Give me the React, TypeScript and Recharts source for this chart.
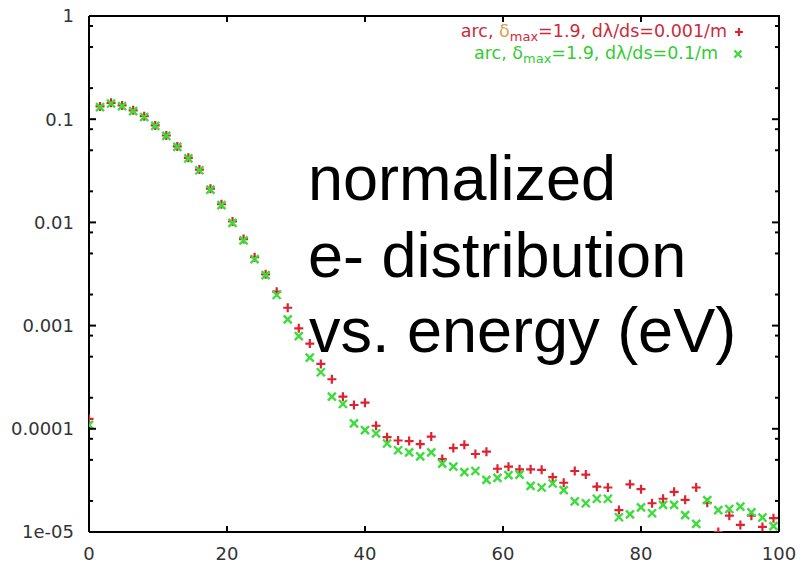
import React from 'react';
import { ScatterChart, Scatter, XAxis, YAxis } from 'recharts';

// energy bins (eV)
const ENERGY = [
  0, 1.6, 3.2, 4.8, 6.4, 8, 9.6, 11.2, 12.8, 14.4, 16, 17.6, 19.2, 20.8, 22.4, 24,
  25.6, 27.2, 28.8, 30.4, 32, 33.6, 35.2, 36.8, 38.4, 40, 41.6, 43.2, 44.8, 46.4, 48, 49.6,
  51.2, 52.8, 54.4, 56, 57.6, 59.2, 60.8, 62.4, 64, 65.6, 67.2, 68.8, 70.4, 72, 73.6, 75.2,
  76.8, 78.4, 80, 81.6, 83.2, 84.8, 86.4, 88, 89.6, 91.2, 92.8, 94.4, 96, 97.6, 99.2,
];

// dλ/ds = 0.001/m  (red +)
const SLOW = [
  1.25e-4, 0.133, 0.144, 0.136, 0.122, 0.107, 0.087, 0.0695, 0.0545, 0.0422, 0.0325, 0.0212, 0.015, 0.0102, 0.0069, 0.0046,
  0.00314, 0.00213, 0.00149, 0.00094, 0.00067, 0.000425, 0.000302, 0.000205, 0.00017, 0.000179, 0.000107, 8.3e-5, 7.7e-5, 7.6e-5, 7.1e-5, 8.4e-5,
  5.1e-5, 6.5e-5, 7.0e-5, 5.7e-5, 6.0e-5, 4.1e-5, 4.3e-5, 4.05e-5, 4.05e-5, 4.0e-5, 3.4e-5, 3.0e-5, 3.9e-5, 3.6e-5, 2.75e-5, 2.7e-5,
  1.63e-5, 2.9e-5, 2.6e-5, 1.9e-5, 2.1e-5, 2.45e-5, 2.05e-5, 2.7e-5, 1.92e-5, 1.0e-5, 1.44e-5, 1.17e-5, 1.44e-5, 1.12e-5, 1.36e-5,
];

// dλ/ds = 0.1/m  (green x)
const FAST = [
  1.09e-4, 0.131, 0.142, 0.134, 0.12, 0.105, 0.086, 0.0688, 0.054, 0.0418, 0.032, 0.0208, 0.0147, 0.0099, 0.0067, 0.0044,
  0.00309, 0.00198, 0.00115, 0.00079, 0.00049, 0.000353, 0.000205, 0.000174, 0.000113, 9.7e-5, 9.0e-5, 7.2e-5, 6.2e-5, 5.9e-5, 5.4e-5, 5.9e-5,
  4.6e-5, 4.3e-5, 3.8e-5, 3.9e-5, 3.2e-5, 3.35e-5, 3.55e-5, 3.6e-5, 2.8e-5, 2.7e-5, 2.95e-5, 2.55e-5, 1.98e-5, 1.9e-5, 2.1e-5, 2.1e-5,
  1.39e-5, 1.48e-5, 1.73e-5, 1.52e-5, 1.83e-5, 1.83e-5, 1.46e-5, 1.2e-5, 2.04e-5, 1.63e-5, 1.67e-5, 1.76e-5, 1.55e-5, 1.38e-5, 1.14e-5,
];

const X_TICKS = [0, 20, 40, 60, 80, 100];
const Y_TICKS = [
  1e-5, 2e-5, 5e-5, 8e-5, 1e-4, 2e-4, 5e-4, 8e-4, 1e-3, 2e-3, 5e-3, 8e-3,
  0.01, 0.02, 0.05, 0.08, 0.1, 0.2, 0.5, 0.8, 1,
];

const W = 807;
const H = 563;
// plot box
const LEFT = 89;
const TOP = 16;
const RIGHT = 779;
const BOTTOM = 532;

const RED = '#dd2230';
const GREEN = '#3ddc3d';
const LABEL_FONT = '"DejaVu Sans", sans-serif';

const slowData = ENERGY.map((x, i) => ({ x, y: SLOW[i] }));
const fastData = ENERGY.map((x, i) => ({ x, y: FAST[i] }));

const isMajor = (v: number) => Math.abs(Math.log10(v) - Math.round(Math.log10(v))) < 1e-9;
const fmtY = (v: number) => (v < 5e-5 ? '1e-05' : String(v));

const PlusShape = (props: any) => {
  const { cx, cy } = props;
  if (cx == null || cy == null) return null;
  return <path d={`M${cx - 4.5},${cy}H${cx + 4.5}M${cx},${cy - 4.5}V${cy + 4.5}`} stroke={RED} strokeWidth={2.2} fill="none" />;
};

const CrossShape = (props: any) => {
  const { cx, cy } = props;
  if (cx == null || cy == null) return null;
  return <path d={`M${cx - 4},${cy - 4}L${cx + 4},${cy + 4}M${cx - 4},${cy + 4}L${cx + 4},${cy - 4}`} stroke={GREEN} strokeWidth={2.4} fill="none" />;
};

const NoShape = () => <g />;

const BottomTick = (props: any) => {
  const { x, payload } = props;
  const inner = payload.value !== 0 && payload.value !== 100;
  return (
    <g>
      {inner && <line x1={x} x2={x} y1={BOTTOM} y2={BOTTOM - 6} stroke="#000" strokeWidth={2} />}
      <text x={x} y={BOTTOM + 15} dy="0.71em" textAnchor="middle" fontSize={18} fill="#333" fontFamily={LABEL_FONT}>{payload.value}</text>
    </g>
  );
};

const TopTick = (props: any) => {
  const { x, payload } = props;
  if (payload.value === 0 || payload.value === 100) return null;
  return <line x1={x} x2={x} y1={TOP} y2={TOP + 6} stroke="#000" strokeWidth={2} />;
};

const LeftTick = (props: any) => {
  const { y, payload } = props;
  const major = isMajor(payload.value);
  return (
    <g>
      <line x1={LEFT} x2={LEFT + (major ? 7 : 4)} y1={y} y2={y} stroke="#000" strokeWidth={2} />
      {major && (
        <text x={LEFT - 15} y={y} dy="0.36em" textAnchor="end" fontSize={18} fill="#333" fontFamily={LABEL_FONT}>{fmtY(payload.value)}</text>
      )}
    </g>
  );
};

const RightTick = (props: any) => {
  const { y, payload } = props;
  const major = isMajor(payload.value);
  return <line x1={RIGHT} x2={RIGHT - (major ? 7 : 4)} y1={y} y2={y} stroke="#000" strokeWidth={2} />;
};

export default function App() {
  return (
    <div style={{ position: 'absolute', left: 0, top: 0, width: W, height: H, overflow: 'hidden', background: '#fff' }}>
      <ScatterChart width={W} height={H} margin={{ top: TOP - 1, right: W - RIGHT - 1, bottom: 0, left: 0 }}>
        <XAxis
          dataKey="x" type="number" domain={[0, 100]} ticks={X_TICKS} interval={0}
          height={H - BOTTOM} tickLine={false} allowDataOverflow
          axisLine={{ stroke: '#000', strokeWidth: 2 }} tick={<BottomTick />}
        />
        <XAxis
          xAxisId="top" dataKey="x" orientation="top" type="number" domain={[0, 100]} ticks={X_TICKS} interval={0}
          height={1} tickLine={false} allowDataOverflow
          axisLine={false} tick={<TopTick />}
        />
        <YAxis
          dataKey="y" type="number" scale="log" domain={[1e-5, 1]} ticks={Y_TICKS} interval={0}
          width={LEFT} tickLine={false} allowDataOverflow
          axisLine={{ stroke: '#000', strokeWidth: 2 }} tick={<LeftTick />}
        />
        <YAxis
          yAxisId="right" dataKey="y" orientation="right" type="number" scale="log" domain={[1e-5, 1]} ticks={Y_TICKS} interval={0}
          width={1} tickLine={false} allowDataOverflow
          axisLine={false} tick={<RightTick />}
        />
        <Scatter name="frame" data={slowData} xAxisId="top" yAxisId="right" shape={<NoShape />} isAnimationActive={false} />
        <Scatter name="slow" data={slowData} shape={<PlusShape />} isAnimationActive={false} />
        <Scatter name="fast" data={fastData} shape={<CrossShape />} isAnimationActive={false} />
      </ScatterChart>
      <svg width={W} height={H} style={{ position: 'absolute', left: 0, top: 0, pointerEvents: 'none' }}>
        <path d={`M${LEFT},${TOP}H${RIGHT}V${BOTTOM}`} fill="none" stroke="#000" strokeWidth={2} />
        <g fontFamily={LABEL_FONT} fontSize={17.5}>
          <text x={727} y={37} textAnchor="end" fill="#cc2a3a">
            arc, <tspan fill="#d9a04e">δ</tspan><tspan fontSize={13} dy={4}>max</tspan><tspan dy={-4}>=1.9, dλ/ds=0.001/m</tspan>
          </text>
          <text x={718} y={59} textAnchor="end" fill="#33cc33">
            arc, δ<tspan fontSize={13} dy={4}>max</tspan><tspan dy={-4}>=1.9, dλ/ds=0.1/m</tspan>
          </text>
          <path d="M735,32H743M739,28V36" stroke={RED} strokeWidth={2.2} />
          <path d="M734.5,50.5L741.5,57.5M734.5,57.5L741.5,50.5" stroke={GREEN} strokeWidth={2.4} />
        </g>
        <g fontFamily='"Liberation Sans", Arial, sans-serif' fontSize={63} fill="#000">
          <text x={308} y={200}>normalized</text>
          <text x={308} y={277}>e- distribution</text>
          <text x={309} y={352}>vs. energy (eV)</text>
        </g>
      </svg>
    </div>
  );
}
